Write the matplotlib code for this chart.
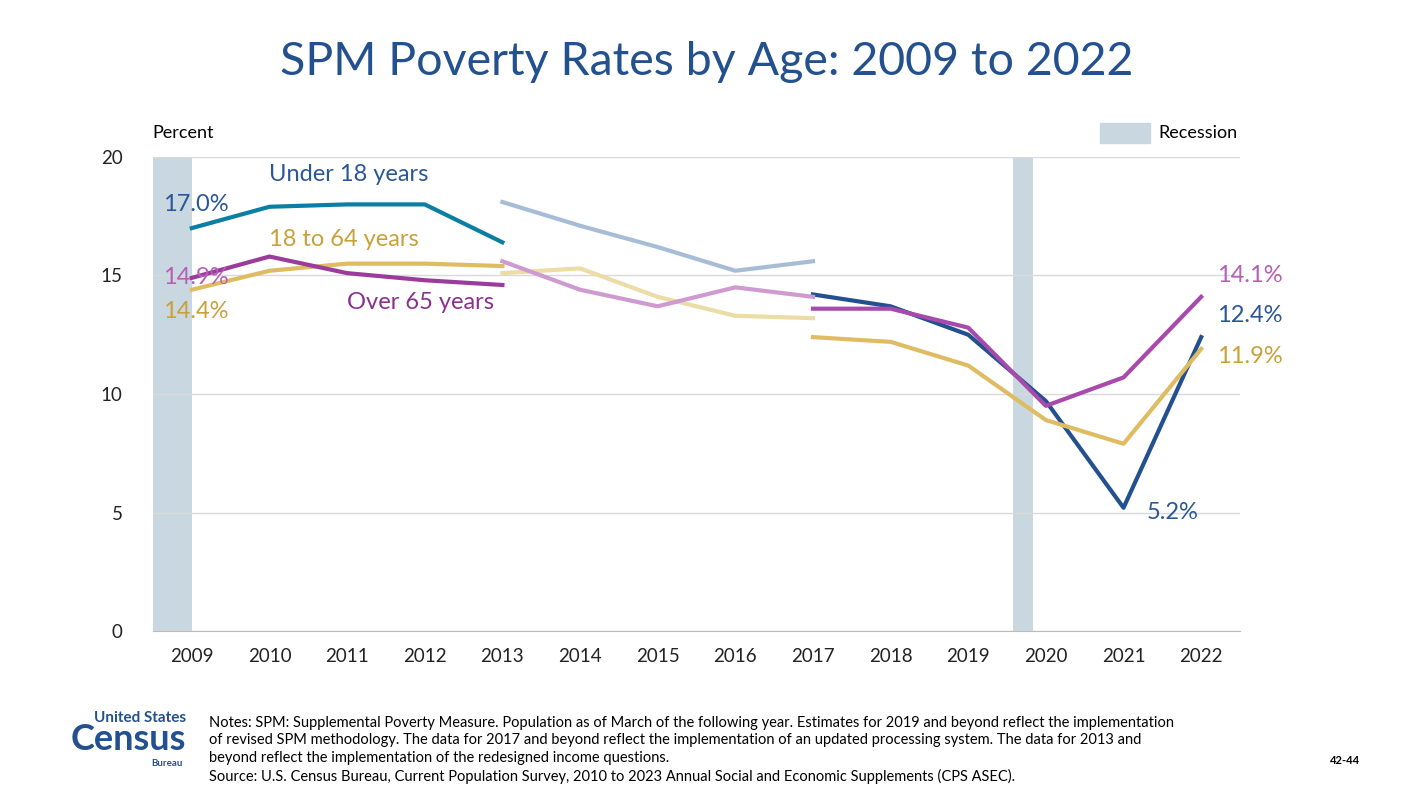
import matplotlib.pyplot as plt

plt.rcParams['font.family'] = ['Lato', 'DejaVu Sans']

years = list(range(2009, 2023))

u18_a = [17.0, 17.9, 18.0, 18.0, 16.4]
u18_b = [18.1, 17.1, 16.2, 15.2, 15.6]
u18_c = [14.2, 13.7, 12.5, 9.7, 5.2, 12.4]
adult_a = [14.4, 15.2, 15.5, 15.5, 15.4]
adult_b = [15.1, 15.3, 14.1, 13.3, 13.2]
adult_c = [12.4, 12.2, 11.2, 8.9, 7.9, 11.9]
old_a = [14.9, 15.8, 15.1, 14.8, 14.6]
old_b = [15.6, 14.4, 13.7, 14.5, 14.1]
old_c = [13.6, 13.6, 12.8, 9.5, 10.7, 14.1]

recessions = [(2008.5, 2009.0), (2019.58, 2019.83)]

fig = plt.figure(figsize=(14.14, 7.96), dpi=100)
ax = fig.add_axes([153/1414, 1-631/796, (1240-153)/1414, (631-157)/796])

for a, b in recessions:
    ax.axvspan(a, b, color='#c9d7e1', lw=0, zorder=0)

ya, yb, yc = years[0:5], years[4:9], years[8:]
ax.plot(ya, u18_a, color='#0b7ea3', lw=3)
ax.plot(yb, u18_b, color='#a7bdd6', lw=3)
ax.plot(yc, u18_c, color='#23508e', lw=3)
ax.plot(ya, adult_a, color='#dfbc62', lw=3)
ax.plot(yb, adult_b, color='#ecdca6', lw=3)
ax.plot(yc, adult_c, color='#dfbc62', lw=3)
ax.plot(ya, old_a, color='#9b3b9b', lw=3)
ax.plot(yb, old_b, color='#cf9ad0', lw=3)
ax.plot(yc, old_c, color='#a74aab', lw=3)

ax.set_xlim(2008.5, 2022.5)
ax.set_ylim(0, 20)
ax.set_yticks([0, 5, 10, 15, 20])
ax.set_xticks(years)
ax.tick_params(axis='both', length=0, labelsize=13.5, colors='#222222', pad=12)
ax.tick_params(axis='y', pad=22)
ax.grid(axis='y', color='#d9d9d9', lw=1)
for s in ['top', 'right', 'left']:
    ax.spines[s].set_visible(False)
ax.spines['bottom'].set_color('#bbbbbb')
ax.set_axisbelow(True)

blue, gold, purple = '#2b5797', '#c9a13a', '#a24aa8'
fs = 17
ax.text(2009.05, 18.0, '17.0%', color=blue, fontsize=fs, ha='center', va='center')
ax.text(2009.05, 14.9, '14.9%', color='#b65fb8', fontsize=fs, ha='center', va='center')
ax.text(2009.05, 13.5, '14.4%', color=gold, fontsize=fs, ha='center', va='center')
ax.text(2010.0, 19.25, 'Under 18 years', color=blue, fontsize=fs, va='center')
ax.text(2010.0, 16.5, '18 to 64 years', color=gold, fontsize=fs, va='center')
ax.text(2011.0, 13.85, 'Over 65 years', color='#8b2f8f', fontsize=fs, va='center')
ax.text(2022.2, 15.0, '14.1%', color='#b65fb8', fontsize=fs, va='center')
ax.text(2022.2, 13.3, '12.4%', color=blue, fontsize=fs, va='center')
ax.text(2022.2, 11.6, '11.9%', color=gold, fontsize=fs, va='center')
ax.text(2021.3, 5.0, '5.2%', color=blue, fontsize=fs, va='center')

fig.text(0.5, 1-62/796, 'SPM Poverty Rates by Age: 2009 to 2022', color='#23508e',
         fontsize=33.5, ha='center', va='center')
fig.text(152/1414, 1-133/796, 'Percent', fontsize=13, va='center')
fig.patches.append(plt.Rectangle((1100/1414, 1-143/796), 50/1414, 20/796,
                                 color='#c9d7e1', transform=fig.transFigure))
fig.text(1158/1414, 1-133/796, 'Recession', fontsize=13, va='center')

notes = ("Notes: SPM: Supplemental Poverty Measure. Population as of March of the following year. Estimates for 2019 and beyond reflect the implementation\n"
         "of revised SPM methodology. The data for 2017 and beyond reflect the implementation of an updated processing system. The data for 2013 and\n"
         "beyond reflect the implementation of the redesigned income questions.\n"
         "Source: U.S. Census Bureau, Current Population Survey, 2010 to 2023 Annual Social and Economic Supplements (CPS ASEC).")
fig.text(209/1414, 1-750/796, notes, fontsize=10.5, va='center', linespacing=1.35)
fig.text(1330/1414, 1-760/796, '42-44', fontsize=8, weight='bold', va='center')

fig.text(186/1414, 1-718/796, 'United States', color='#23508e', fontsize=11, weight='bold', ha='right', va='center')
fig.text(186/1414, 1-740/796, 'Census', color='#23508e', fontsize=26, weight='bold', ha='right', va='center')
fig.text(183/1414, 1-763/796, 'Bureau', color='#23508e', fontsize=7, weight='bold', ha='right', va='center')

fig.savefig('out.png', dpi=100)
